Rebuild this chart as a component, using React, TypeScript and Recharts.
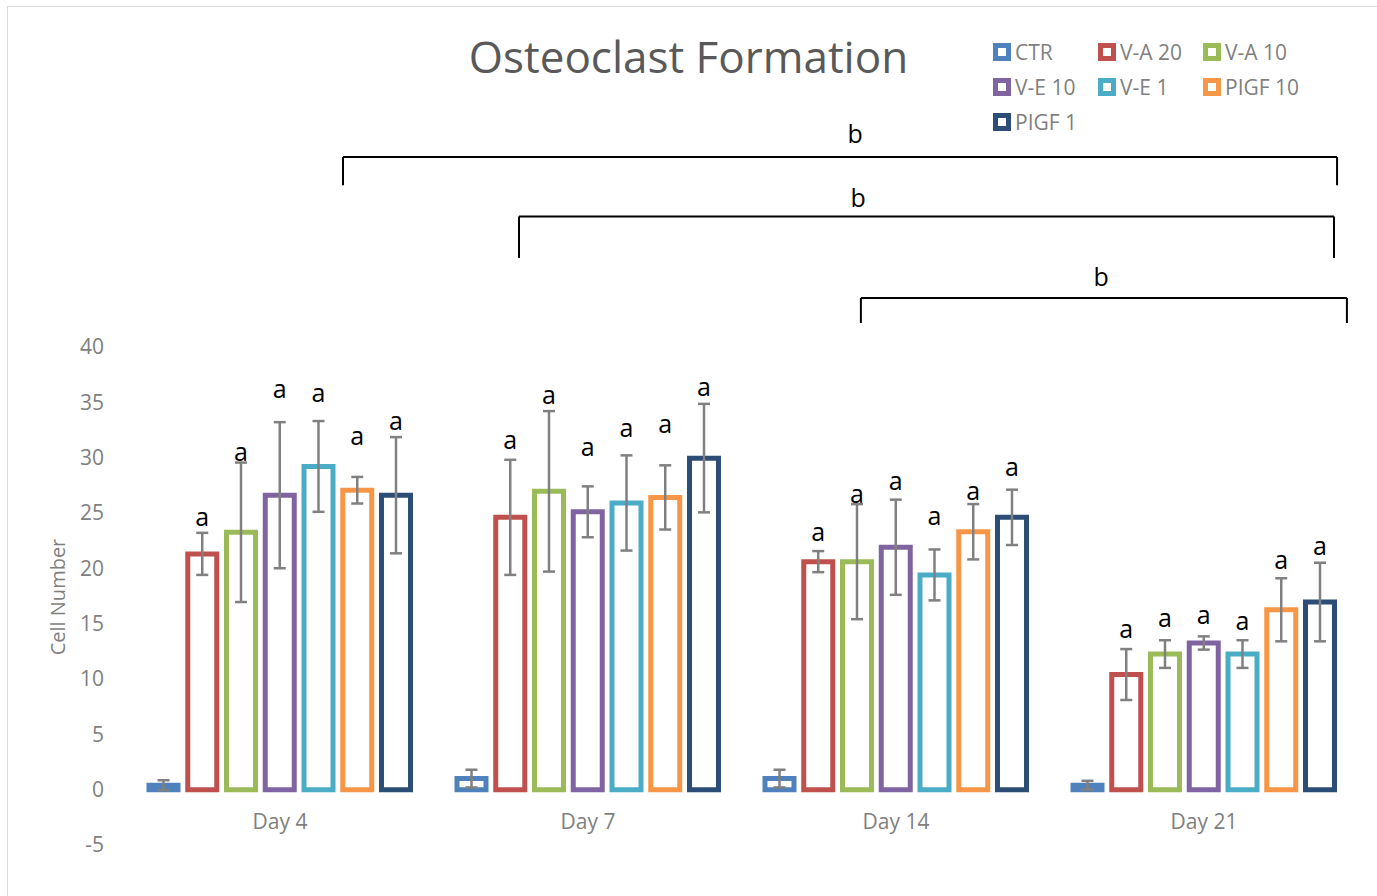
import React from 'react';
import {
  BarChart,
  Bar,
  XAxis,
  YAxis,
  ErrorBar,
  LabelList,
  Legend,
  ReferenceLine,
  ReferenceDot,
} from 'recharts';

// ---------- data ----------
const days = ['Day 4', 'Day 7', 'Day 14', 'Day 21'];
const dayCenters = [0.5, 1.5, 2.5, 3.5];
const seriesNames = ['CTR', 'V-A 20', 'V-A 10', 'V-E 10', 'V-E 1', 'PIGF 10', 'PIGF 1'];
const yTicks = [-5, 0, 5, 10, 15, 20, 25, 30, 35, 40];

const ctr = [0.4, 1.0, 1.0, 0.4];
const ctrErr = [0.45, 0.8, 0.8, 0.4];
const va20 = [21.3, 24.6, 20.6, 10.4];
const va20Err = [1.9, 5.2, 0.95, 2.3];
const va10 = [23.25, 26.95, 20.6, 12.25];
const va10Err = [6.3, 7.25, 5.2, 1.25];
const ve10 = [26.6, 25.1, 21.9, 13.25];
const ve10Err = [6.6, 2.3, 4.3, 0.6];
const ve1 = [29.2, 25.9, 19.4, 12.25];
const ve1Err = [4.1, 4.3, 2.3, 1.25];
const pigf10 = [27.05, 26.4, 23.3, 16.25];
const pigf10Err = [1.2, 2.9, 2.5, 2.85];
const pigf1 = [26.6, 29.95, 24.6, 16.95];
const pigf1Err = [5.25, 4.9, 2.5, 3.55];

// significance letters ("a") and the value height at which each is written
const letterA = 'a';
const va20Letter = [24.7, 31.7, 23.4, 14.6];
const va10Letter = [30.6, 35.75, 26.8, 15.6];
const ve10Letter = [36.3, 31.05, 28.0, 15.9];
const ve1Letter = [35.9, 32.8, 24.8, 15.3];
const pigf10Letter = [32.0, 33.15, 27.1, 20.8];
const pigf1Letter = [33.4, 36.5, 29.2, 22.1];

// significance brackets ("b"), x in category units (0..4), y in value units
const letterB = 'b';
const bracketLeft = [0.7045, 1.276, 2.386];
const bracketRight = [3.932, 3.922, 3.964];
const bracketTop = [57.15, 51.78, 44.42];
const bracketBottom = [54.6, 48.03, 42.16];
const bracketLabelX = [2.367, 2.377, 3.166];
const bracketLabelY = [59.3, 53.55, 46.4];

// ---------- styles ----------
const colors = ['#4F81BD', '#C0504D', '#9BBB59', '#8064A2', '#4BACC6', '#F79646', '#2C4D75'];
const FONT = '"Open Sans", sans-serif';
const GRAY = '#7f7f7f';

const series = [
  { key: 'ctr', errKey: 'ctrErr', values: ctr, err: ctrErr, letters: null as number[] | null },
  { key: 'va20', errKey: 'va20Err', values: va20, err: va20Err, letters: va20Letter },
  { key: 'va10', errKey: 'va10Err', values: va10, err: va10Err, letters: va10Letter },
  { key: 've10', errKey: 've10Err', values: ve10, err: ve10Err, letters: ve10Letter },
  { key: 've1', errKey: 've1Err', values: ve1, err: ve1Err, letters: ve1Letter },
  { key: 'pigf10', errKey: 'pigf10Err', values: pigf10, err: pigf10Err, letters: pigf10Letter },
  { key: 'pigf1', errKey: 'pigf1Err', values: pigf1, err: pigf1Err, letters: pigf1Letter },
];

const data = days.map((day, i) => {
  const row: Record<string, any> = { day, pos: dayCenters[i] };
  series.forEach((s) => {
    row[s.key] = s.values[i];
    row[s.errKey] = s.err[i];
  });
  return row;
});

const XTick = (p: any) => (
  <text
    x={p.x}
    y={p.y - 26}
    textAnchor="middle"
    dominantBaseline="central"
    fontFamily={FONT}
    fontSize={21}
    fill={GRAY}
  >
    {p.payload.value}
  </text>
);

const makeLetterContent = (values: number[], letters: number[]) => (p: any) => {
  const i = p.index;
  if (i == null || letters[i] == null) return null;
  const vb = p.viewBox && p.viewBox.width != null ? p.viewBox : p;
  const x = Number(vb.x);
  const y = Number(vb.y);
  const w = Number(vb.width);
  const h = Number(vb.height);
  const v = values[i];
  const zeroY = y + h;
  const py = zeroY - (letters[i] * h) / v;
  return (
    <text
      x={x + w / 2}
      y={py}
      textAnchor="middle"
      dominantBaseline="central"
      fontFamily={FONT}
      fontSize={25}
      fill="#000"
    >
      {letterA}
    </text>
  );
};

const LegendContent = () => (
  <div
    style={{
      display: 'flex',
      flexWrap: 'wrap',
      width: 320,
      fontFamily: FONT,
      fontSize: 21,
      color: GRAY,
    }}
  >
    {seriesNames.map((name, i) => (
      <div key={name} style={{ width: 105, height: 35, display: 'flex', alignItems: 'center' }}>
        <div
          style={{
            width: 18,
            height: 18,
            boxSizing: 'border-box',
            border: `5px solid ${colors[i]}`,
            background: '#fff',
            marginRight: 4,
            flex: 'none',
          }}
        />
        <span style={{ whiteSpace: 'nowrap' }}>{name}</span>
      </div>
    ))}
  </div>
);

const BracketLabel = (p: any) => (
  <text
    x={p.cx}
    y={p.cy}
    textAnchor="middle"
    dominantBaseline="central"
    fontFamily={FONT}
    fontSize={25}
    fill="#000"
  >
    {letterB}
  </text>
);

export default function App() {
  return (
    <div style={{ position: 'fixed', left: 0, top: 0, width: 1377, height: 896, overflow: 'hidden', background: '#fff' }}>
      <div
        style={{
          position: 'absolute',
          left: 7,
          top: 6,
          width: 1400,
          height: 920,
          border: '1px solid #d9d9d9',
        }}
      />
      <div
        style={{
          position: 'absolute',
          left: 0,
          top: 34,
          width: 1377,
          textAlign: 'center',
          fontFamily: FONT,
          fontSize: 44,
          lineHeight: '44px',
          color: '#595959',
        }}
      >
        Osteoclast Formation
      </div>
      <div
        style={{
          position: 'absolute',
          left: 58 - 100,
          top: 597 - 12,
          width: 200,
          height: 24,
          lineHeight: '24px',
          textAlign: 'center',
          transform: 'rotate(-90deg)',
          fontFamily: FONT,
          fontSize: 20,
          color: GRAY,
        }}
      >
        Cell Number
      </div>
      <div style={{ position: 'absolute', left: 0, top: 0 }}>
        <BarChart
          width={1377}
          height={896}
          data={data}
          margin={{ top: 125.5, right: 19, bottom: 21, left: 66 }}
          barGap={9.75}
          barSize={29}
        >
          <XAxis
            xAxisId="cat"
            dataKey="day"
            axisLine={false}
            tickLine={false}
            tickSize={0}
            height={30}
            tick={<XTick />}
            interval={0}
          />
          <XAxis xAxisId="num" dataKey="pos" type="number" domain={[0, 4]} hide allowDataOverflow />
          <YAxis
            domain={[-5, 60]}
            ticks={yTicks}
            allowDataOverflow
            axisLine={false}
            tickLine={false}
            tickSize={0}
            tickMargin={22}
            width={60}
            tick={{ fontFamily: FONT, fontSize: 21, fill: GRAY }}
          />
          <Legend
            layout="horizontal"
            verticalAlign="middle"
            align="center"
            content={<LegendContent />}
            wrapperStyle={{ position: 'absolute', left: 993, top: 34, width: 330 }}
          />
          {series.map((s, idx) => (
            <Bar
              key={s.key}
              xAxisId="cat"
              dataKey={s.key}
              name={seriesNames[idx]}
              fill="#ffffff"
              stroke={colors[idx]}
              strokeWidth={5}
              isAnimationActive={false}
            >
              <ErrorBar dataKey={s.errKey} width={6} stroke="#808080" strokeWidth={2.5} direction="y" />
              {s.letters ? (
                <LabelList dataKey={s.key} content={makeLetterContent(s.values, s.letters)} />
              ) : null}
            </Bar>
          ))}
          {bracketLeft.map((l, i) => (
            <ReferenceLine
              key={`h${i}`}
              xAxisId="num"
              ifOverflow="visible"
              segment={[
                { x: l, y: bracketTop[i] },
                { x: bracketRight[i], y: bracketTop[i] },
              ]}
              stroke="#000"
              strokeWidth={2}
            />
          ))}
          {bracketLeft.map((l, i) => (
            <ReferenceLine
              key={`l${i}`}
              xAxisId="num"
              ifOverflow="visible"
              segment={[
                { x: l, y: bracketTop[i] },
                { x: l, y: bracketBottom[i] },
              ]}
              stroke="#000"
              strokeWidth={2}
            />
          ))}
          {bracketRight.map((r, i) => (
            <ReferenceLine
              key={`r${i}`}
              xAxisId="num"
              ifOverflow="visible"
              segment={[
                { x: r, y: bracketTop[i] },
                { x: r, y: bracketBottom[i] },
              ]}
              stroke="#000"
              strokeWidth={2}
            />
          ))}
          {bracketLabelX.map((bx, i) => (
            <ReferenceDot
              key={`b${i}`}
              xAxisId="num"
              x={bx}
              y={bracketLabelY[i]}
              r={0}
              ifOverflow="visible"
              shape={<BracketLabel />}
            />
          ))}
        </BarChart>
      </div>
    </div>
  );
}
